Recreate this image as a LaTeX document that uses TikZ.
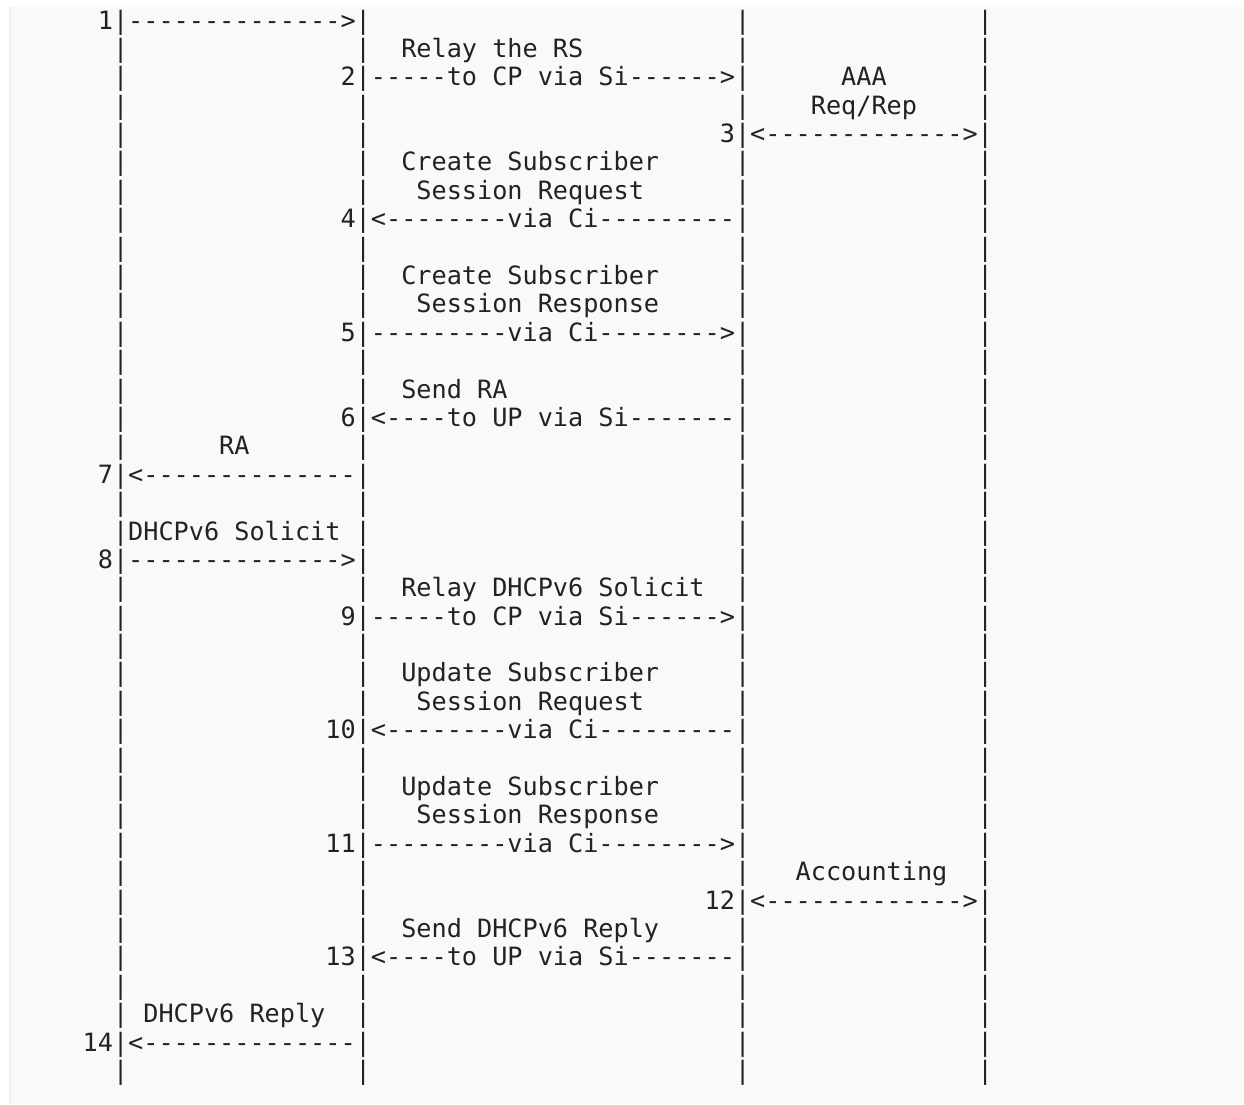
\documentclass[tikz,border=0pt]{standalone}
\usepackage{fontspec}
\setmonofont{DejaVu Sans Mono}
\usepackage{xcolor}
\usepackage{tikz}
\definecolor{flowInk} {HTML}{222222}
\definecolor{flowBand}{HTML}{F9F9F9}
\definecolor{flowEdge}{HTML}{EEEEEE}

\begin{document}
\begin{tikzpicture}[
      x=1pt, y=1pt,
      glyph/.style={anchor=base west, inner sep=0pt, outer sep=0pt,
                    text=flowInk, font=\ttfamily\fontsize{25.2}{28.4}\selectfont},
      lifeline/.style={glyph},
      msg/.style={glyph}]
    \useasboundingbox (0,0) rectangle (1244,-1104);
    \fill[flowBand] (9,-7) rectangle (1244,-1104);
    \fill[flowEdge] (9,-7) rectangle (11,-1104);
    % one unit = one character cell
    \begin{scope}[shift={(22pt,-29pt)}, x=15.17pt, y=-28.39pt]
      \foreach \r in {0,...,37}
        \foreach \c in {6,22,47,63}
          \node[lifeline] (bar-\c-\r) at (\c,\r) {|};
      \foreach \r/\c/\t in {
          0/5/{1}, 0/7/{-------------->},
          1/25/{Relay the RS},
          2/21/{2}, 2/23/{-----to CP via Si------>}, 2/54/{AAA},
          3/52/{Req/Rep},
          4/46/{3}, 4/48/{<------------->},
          5/25/{Create Subscriber}, 6/26/{Session Request},
          7/21/{4}, 7/23/{<--------via Ci---------},
          9/25/{Create Subscriber}, 10/26/{Session Response},
          11/21/{5}, 11/23/{---------via Ci-------->},
          13/25/{Send RA},
          14/21/{6}, 14/23/{<----to UP via Si-------},
          15/13/{RA},
          16/5/{7}, 16/7/{<--------------},
          18/7/{DHCPv6 Solicit},
          19/5/{8}, 19/7/{-------------->},
          20/25/{Relay DHCPv6 Solicit},
          21/21/{9}, 21/23/{-----to CP via Si------>},
          23/25/{Update Subscriber}, 24/26/{Session Request},
          25/20/{10}, 25/23/{<--------via Ci---------},
          27/25/{Update Subscriber}, 28/26/{Session Response},
          29/20/{11}, 29/23/{---------via Ci-------->},
          30/51/{Accounting},
          31/45/{12}, 31/48/{<------------->},
          32/25/{Send DHCPv6 Reply},
          33/20/{13}, 33/23/{<----to UP via Si-------},
          35/8/{DHCPv6 Reply},
          36/4/{14}, 36/7/{<--------------}}
        \node[msg] (msg-\r-\c) at (\c,\r) {\t};
    \end{scope}
  \end{tikzpicture}
\end{document}
